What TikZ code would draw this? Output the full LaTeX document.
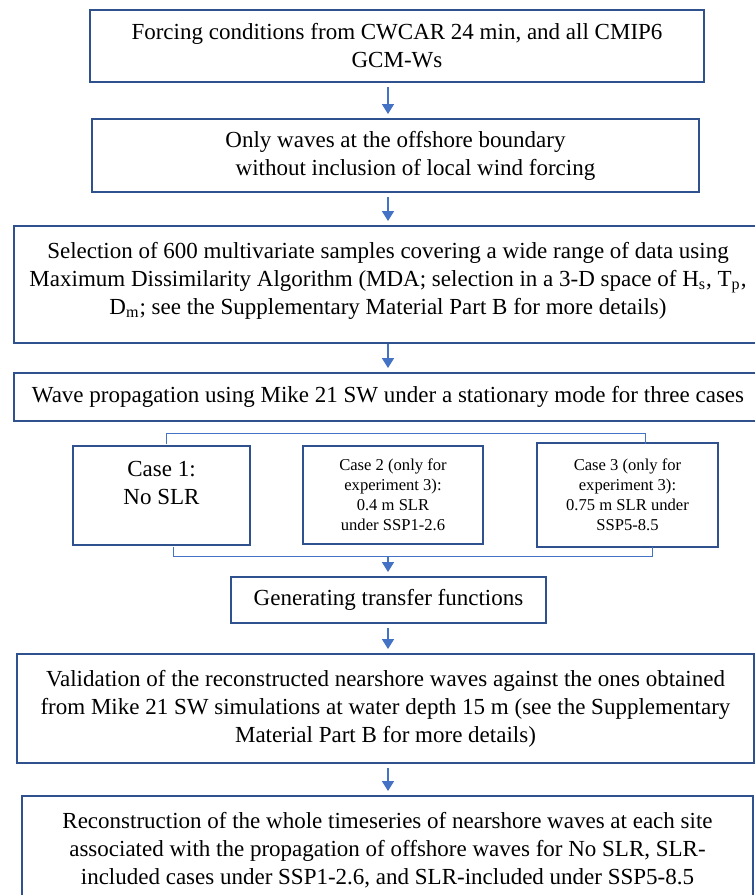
\documentclass[tikz,border=0pt]{standalone}
\usepackage{fontspec}
\setmainfont{Liberation Serif}
\usetikzlibrary{arrows.meta}
\definecolor{boxblue}{HTML}{2F528F}
\definecolor{arrblue}{HTML}{4472C4}

\begin{document}
\begin{tikzpicture}[x=0.5pt,y=-0.5pt,
  box/.style={draw=boxblue,line width=1pt,align=center,inner sep=0pt,font=\fontsize{11.5}{14}\selectfont},
  small/.style={font=\fontsize{8.3}{10}\selectfont},
  arr/.style={draw=arrblue,line width=0.85pt,-{Triangle[width=6pt,length=5pt]},shorten <=2pt,shorten >=2pt},
  brace/.style={draw=arrblue,line width=0.5pt}]
\useasboundingbox (0,0) rectangle (755,895);

\node[box,minimum width=307pt,minimum height=36pt] (forcing) at (397,46) {Forcing conditions from CWCAR 24 min, and all CMIP6\\GCM-Ws};
\node[box,minimum width=303.5pt,minimum height=36.5pt] (offshore) at (395.5,155.5) {Only waves at the offshore boundary\\\hspace*{20pt}without inclusion of local wind forcing};
\node[box,minimum width=374pt,text height=44pt,text depth=14.5pt] (mda) at (388,284.5) {Selection of 600 multivariate samples covering a wide range of data using\\Maximum Dissimilarity Algorithm (MDA; selection in a 3-D space of H\textsubscript{s}, T\textsubscript{p},\\D\textsubscript{m}; see the Supplementary Material Part B for more details)};
\node[box,minimum width=374pt,minimum height=24pt] (propag) at (388,397) {Wave propagation using Mike 21 SW under a stationary mode for three cases};

\node[box,minimum width=88.5pt,text height=29pt,text depth=20.5pt] (case1) at (161.5,495.5) {Case 1:\\No SLR};
\node[box,small,minimum width=90pt,minimum height=49pt] (case2) at (393,495) {Case 2 (only for\\experiment 3):\\0.4 m SLR\\under SSP1-2.6};
\node[box,small,minimum width=90.5pt,minimum height=52pt] (case3) at (627.5,495) {Case 3 (only for\\experiment 3):\\0.75 m SLR under\\SSP5-8.5};

\node[box,minimum width=157.5pt,minimum height=23pt] (transfer) at (388.5,600) {Generating transfer functions};
\node[box,minimum width=368.5pt,minimum height=54.5pt] (valid) at (385.5,708.5) {Validation of the reconstructed nearshore waves against the ones obtained\\from Mike 21 SW simulations at water depth 15 m (see the Supplementary\\Material Part B for more details)};
\node[box,minimum width=365.5pt,minimum height=54.5pt] (recon) at (387.5,850.5) {Reconstruction of the whole timeseries of nearshore waves at each site\\associated with the propagation of offshore waves for No SLR, SLR-\\included cases under SSP1-2.6, and SLR-included under SSP5-8.5};

% brackets round the three cases
\coordinate (ax) at (388,0);
\coordinate (topl) at (166,444);
\coordinate (topr) at (645,444);
\coordinate (botl) at (173,547);
\coordinate (botr) at (652,547);
\coordinate (join) at (388,556);
\draw[brace] (topl) |- ([yshift=5.5pt]topr) -- (topr);
\draw[brace] (botl) |- ([yshift=-4.5pt]botr) -- (botr);

\draw[arr] (forcing.south -| ax) -- (offshore.north -| ax);
\draw[arr] (offshore.south -| ax) -- (mda.north -| ax);
\draw[arr,shorten <=0pt] (mda.south -| ax) -- (propag.north -| ax);
\draw[arr,shorten <=0pt] (join) -- (transfer.north -| ax);
\draw[arr] (transfer.south -| ax) -- (valid.north -| ax);
\draw[arr] (valid.south -| ax) -- (recon.north -| ax);

\end{tikzpicture}
\end{document}
